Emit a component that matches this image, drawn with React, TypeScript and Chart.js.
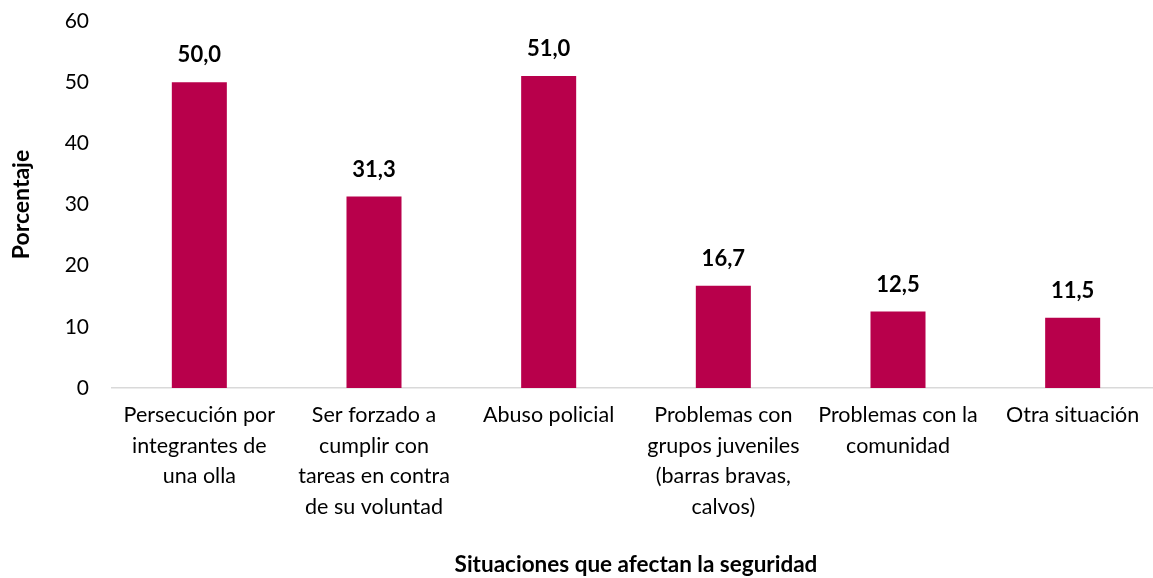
import React, { useEffect, useRef } from "react";
import { Chart, registerables } from "chart.js";

Chart.register(...registerables);

const categories: string[][] = [
  ["Persecución por", "integrantes de", "una olla"],
  ["Ser forzado a", "cumplir con", "tareas en contra", "de su voluntad"],
  ["Abuso policial"],
  ["Problemas con", "grupos juveniles", "(barras bravas,", "calvos)"],
  ["Problemas con la", "comunidad"],
  ["Otra situación"],
];
const values: number[] = [50.0, 31.3, 51.0, 16.7, 12.5, 11.5];
const yTicks: number[] = [0, 10, 20, 30, 40, 50, 60];
const xTitle = "Situaciones que afectan la seguridad";
const yTitle = "Porcentaje";

const FONT = "Lato, 'Noto Sans', sans-serif";
const BAR = "#B8004B";

const labelPlugin = {
  id: "valueLabels",
  afterDatasetsDraw(chart: any) {
    const ctx = chart.ctx;
    const meta = chart.getDatasetMeta(0);
    ctx.save();
    ctx.font = `bold 22px ${FONT}`;
    ctx.fillStyle = "#000";
    ctx.textAlign = "center";
    ctx.textBaseline = "middle";
    meta.data.forEach((el: any, i: number) => {
      const v = chart.data.datasets[0].data[i] as number;
      ctx.fillText(v.toFixed(1).replace(".", ","), el.x, el.y - 27);
    });
    ctx.restore();
  },
};

export default function App() {
  const ref = useRef<HTMLCanvasElement | null>(null);
  useEffect(() => {
    if (!ref.current) return;
    const chart = new Chart(ref.current, {
      type: "bar",
      data: {
        labels: categories,
        datasets: [
          {
            data: values,
            backgroundColor: BAR,
            barPercentage: 0.315,
            categoryPercentage: 1,
          },
        ],
      },
      options: {
        animation: false,
        responsive: true,
        maintainAspectRatio: false,
        layout: { padding: { top: 21, right: 0, bottom: 0, left: 0 } },
        plugins: {
          legend: { display: false },
          tooltip: { enabled: false },
        },
        scales: {
          x: {
            grid: { display: false, drawTicks: false },
            border: { display: true, color: "#D9D9D9", width: 1.5 },
            ticks: {
              color: "#000",
              font: { family: FONT, size: 21.5, lineHeight: 1.42 },
              padding: 12,
              maxRotation: 0,
              autoSkip: false,
            },
            title: {
              display: true,
              text: xTitle,
              color: "#000",
              font: { family: FONT, size: 22.5, weight: "bold", lineHeight: 1.2 },
              padding: { top: 0, bottom: 0 },
            },
            afterFit(scale: any) {
              scale.height = 190;
            },
          },
          y: {
            min: 0,
            max: 60,
            afterBuildTicks(scale: any) {
              scale.ticks = yTicks.map((v) => ({ value: v }));
            },
            grid: { display: false, drawTicks: false },
            border: { display: false },
            ticks: {
              color: "#000",
              font: { family: FONT, size: 21 },
              padding: 23,
            },
            title: {
              display: true,
              text: yTitle,
              color: "#000",
              font: { family: FONT, size: 23, weight: "bold", lineHeight: 1.2 },
              padding: { top: 8, bottom: 0 },
            },
            afterFit(scale: any) {
              scale.width = 112;
              scale.paddingTop = 0;
              scale.paddingBottom = 0;
            },
          },
        },
      },
      plugins: [labelPlugin],
    });
    return () => chart.destroy();
  }, []);
  return (
    <div style={{ position: "fixed", left: 0, top: 0, width: 1160, height: 578, background: "#fff" }}>
      <canvas ref={ref} />
    </div>
  );
}
